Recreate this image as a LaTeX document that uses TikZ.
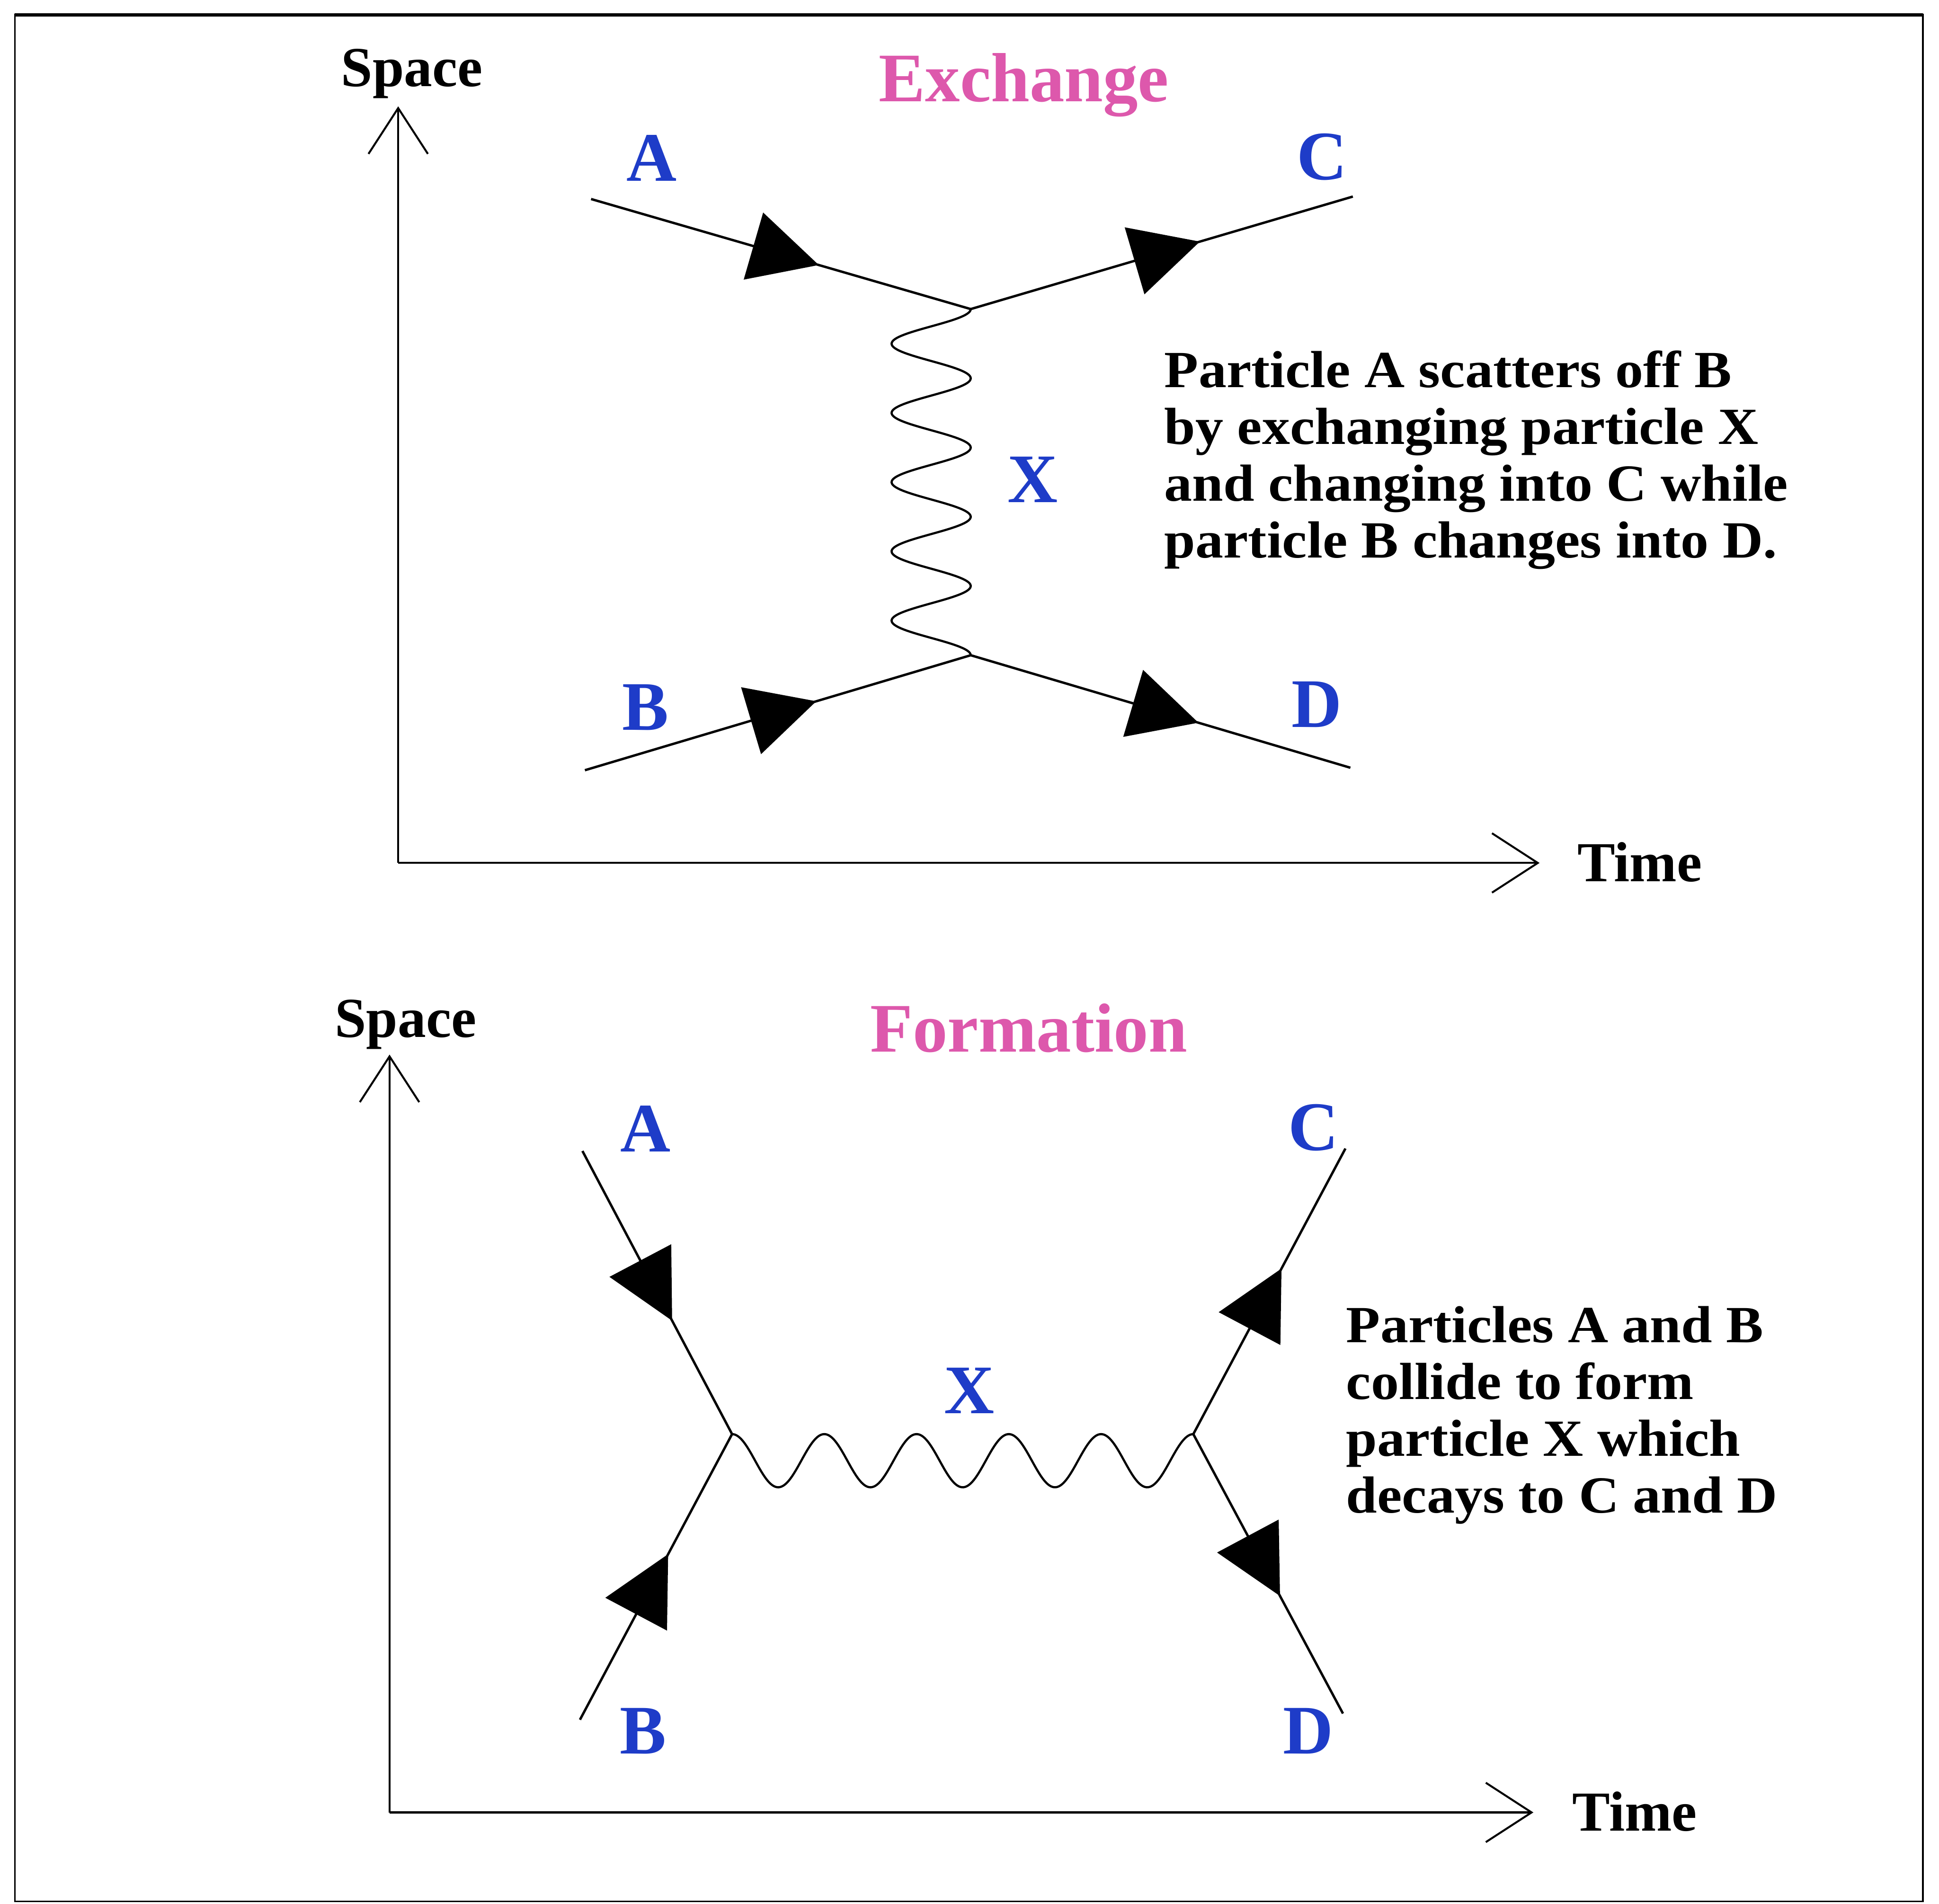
\documentclass[tikz,border=0pt]{standalone}
\usepackage{fontspec}
\setmainfont{Liberation Serif}
\newfontfamily\notefont[FakeStretch=1.07]{Liberation Serif}
\usetikzlibrary{arrows.meta,decorations.markings}
\definecolor{lblblue}{RGB}{30,60,200}
\definecolor{headpink}{RGB}{221,88,172}

\begin{document}
\begin{tikzpicture}[x=0.01cm,y=-0.01cm, %one unit = one pixel of the page, y runs downwards
  axis/.style={line width=0.45pt,-{Straight Barb[length=0.37cm,width=0.48cm,line width=0.45pt]}},
  fermion/.style={line width=0.55pt,postaction={decorate},
    decoration={markings,mark=at position #1 with {\arrow{Triangle[length=0.55cm,width=0.56cm]}}}},
  fermion/.default=0.6,
  boson/.style={line width=0.5pt},
  partlbl/.style={text=lblblue,font=\fontsize{16}{19}\selectfont\bfseries,inner sep=0pt},
  headlbl/.style={text=headpink,font=\fontsize{16}{19}\selectfont\bfseries,inner sep=0pt,anchor=base},
  axislbl/.style={font=\fontsize{13}{15}\selectfont\bfseries,inner sep=0pt,anchor=base},
  notelbl/.style={font=\notefont\fontsize{12}{13.04}\selectfont\bfseries,align=left,inner sep=0pt,anchor=north west}]
\useasboundingbox (0,0) rectangle (1568,1540);
\draw[line width=0.4pt] (12,12) rectangle (1555,1538); %Frame
\draw[line width=0.8pt] (12,12) -- (1555,12); %Heavier top edge

%Exchange diagram (upper half)
\coordinate (o1) at (322,698);
\coordinate (s1) at (322,86);
\coordinate (t1) at (1245,698);
\draw[axis] (o1) -- (s1); %Space axis
\draw[axis] (o1) -- (t1); %Time axis
\node[axislbl] (space1) at (333,70) {Space};
\node[axislbl] (time1) at (1326,713) {Time};
\node[headlbl] (exch) at (828,82) {Exchange};
\coordinate (a1) at (478,161);
\coordinate (c1) at (1094,159);
\coordinate (b1) at (473,623);
\coordinate (d1) at (1092,621);
\coordinate (v1) at (785,250); %Upper vertex
\coordinate (v2) at (785,530); %Lower vertex
\draw[fermion] (a1) -- (v1);
\draw[fermion] (v1) -- (c1);
\draw[fermion] (b1) -- (v2);
\draw[fermion] (v2) -- (d1);
\draw[boson,shift={(v1)}] plot[domain=0:1,samples=300] ({32*cos(1800*\x)-32},{280*\x}); %Exchanged X
\node[partlbl] (la1) at (527,128) {A};
\node[partlbl] (lc1) at (1069,127) {C};
\node[partlbl] (lb1) at (522,572) {B};
\node[partlbl] (ld1) at (1065,570) {D};
\node[partlbl] (lx1) at (835,388) {X};
\node[notelbl] (note1) at (941,283) {Particle A scatters off B\\by exchanging particle X\\and changing into C while\\particle B changes into D.};

%Formation diagram (lower half)
\coordinate (o2) at (315,1466);
\coordinate (s2) at (315,853);
\coordinate (t2) at (1240,1466);
\draw[axis] (o2) -- (s2); %Space axis
\draw[axis] (o2) -- (t2); %Time axis
\node[axislbl] (space2) at (328,839) {Space};
\node[axislbl] (time2) at (1322,1481) {Time};
\node[headlbl] (form) at (832,851) {Formation};
\coordinate (a2) at (471,931);
\coordinate (b2) at (469,1391);
\coordinate (c2) at (1088,929);
\coordinate (d2) at (1086,1386);
\coordinate (u1) at (592,1160); %Left vertex
\coordinate (u2) at (965,1160); %Right vertex
\draw[fermion=0.6] (a2) -- (u1);
\draw[fermion=0.58] (b2) -- (u1);
\draw[fermion=0.58] (u2) -- (c2);
\draw[fermion=0.58] (u2) -- (d2);
\draw[boson,shift={(u1)}] plot[domain=0:1,samples=300] ({373*\x},{21.5-21.5*cos(1800*\x)}); %Formed X
\node[partlbl] (la2) at (522,913) {A};
\node[partlbl] (lc2) at (1062,912) {C};
\node[partlbl] (lb2) at (520,1400) {B};
\node[partlbl] (ld2) at (1058,1400) {D};
\node[partlbl] (lx2) at (784,1125) {X};
\node[notelbl] (note2) at (1088,1056) {Particles A and B\\collide to form\\particle X which\\decays to C and D};
\end{tikzpicture}
\end{document}
